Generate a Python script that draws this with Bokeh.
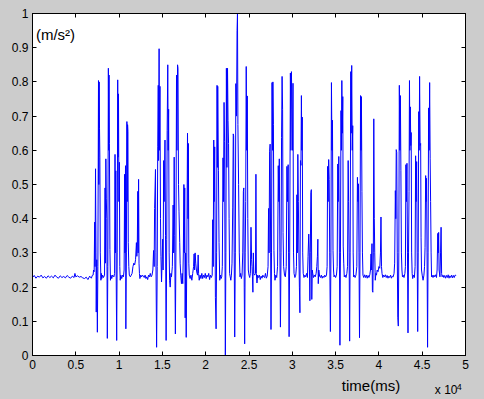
from bokeh.plotting import figure
from bokeh.models import LinearAxis, FixedTicker, Label, Range1d
from bokeh.embed import file_html
from bokeh.resources import INLINE

# Samples: (time in 1e4 ms, acceleration in m/s^2)
quiet_start = [(0.00,0.228),(0.02,0.234),(0.04,0.226),(0.06,0.232),(0.08,0.229),(0.10,0.235),(0.12,0.227),
               (0.14,0.231),(0.16,0.226),(0.18,0.233),(0.20,0.228),(0.22,0.232),(0.24,0.227),(0.26,0.235),
               (0.28,0.229),(0.30,0.226),(0.32,0.233),(0.34,0.228),(0.36,0.231),(0.38,0.227),(0.40,0.234),
               (0.42,0.229),(0.44,0.226),(0.46,0.232),(0.48,0.228),(0.49,0.240),(0.50,0.230),(0.52,0.233),
               (0.54,0.229),(0.56,0.231),(0.58,0.227),(0.60,0.225),(0.62,0.229),(0.64,0.222),(0.66,0.232),
               (0.68,0.226),(0.69,0.234)]

group_1 = [(0.70,0.235),(0.705,0.25),(0.712,0.245),(0.718,0.39),(0.722,0.26),(0.728,0.546),(0.733,0.30),
           (0.736,0.127),(0.742,0.28),(0.749,0.068),(0.755,0.26),(0.762,0.804),(0.766,0.50),(0.770,0.80),
           (0.774,0.663),(0.778,0.58),(0.783,0.30),(0.79,0.22),(0.795,0.24),(0.80,0.225),(0.81,0.235),
           (0.82,0.228),(0.832,0.235),
           (0.838,0.49),(0.842,0.27),(0.847,0.575),(0.852,0.46),(0.858,0.40),(0.864,0.05),(0.870,0.26),
           (0.876,0.84),(0.880,0.60),(0.884,0.82),(0.888,0.62),(0.894,0.31),(0.90,0.22),(0.906,0.235),
           (0.915,0.225),(0.925,0.235),(0.94,0.23),
           (0.948,0.24),(0.953,0.588),(0.957,0.30),(0.962,0.54),(0.966,0.25),(0.972,0.044),(0.978,0.30),
           (0.984,0.806),(0.988,0.58),(0.993,0.765),(0.998,0.45),(1.003,0.565),(1.008,0.26),(1.013,0.22),
           (1.02,0.235),(1.03,0.225),(1.04,0.235),(1.05,0.23),
           (1.058,0.25),(1.064,0.53),(1.068,0.30),(1.074,0.555),(1.078,0.078),(1.084,0.30),(1.09,0.684),
           (1.094,0.45),(1.098,0.675),(1.102,0.655),(1.106,0.33),(1.112,0.26),(1.118,0.235),(1.13,0.23),
           (1.14,0.235),
           (1.15,0.24),(1.16,0.26),(1.17,0.27),(1.18,0.265),(1.19,0.28),(1.20,0.33),(1.205,0.29),(1.21,0.32),
           (1.216,0.48),(1.22,0.30),(1.225,0.515),(1.23,0.27),(1.235,0.24),(1.24,0.225),(1.25,0.235),
           (1.26,0.23),(1.27,0.235)]

group_2 = [(1.28,0.232),(1.29,0.228),(1.30,0.235),(1.31,0.225),(1.32,0.23),(1.33,0.222),(1.34,0.235),
           (1.35,0.23),(1.36,0.24),(1.37,0.23),(1.38,0.235),(1.39,0.25),
           (1.398,0.307),(1.405,0.26),(1.41,0.43),(1.42,0.544),(1.425,0.30),(1.433,0.024),(1.44,0.26),
           (1.446,0.61),(1.452,0.79),(1.456,0.57),(1.462,0.897),(1.466,0.60),(1.472,0.787),(1.478,0.40),
           (1.483,0.29),(1.49,0.215),(1.497,0.28),(1.503,0.34),(1.508,0.25),(1.515,0.57),(1.52,0.45),
           (1.53,0.63),(1.536,0.35),(1.543,0.044),(1.55,0.34),(1.555,0.658),(1.562,0.85),(1.567,0.60),
           (1.572,0.72),(1.578,0.30),(1.583,0.22),(1.59,0.20),(1.598,0.24),(1.605,0.23),(1.615,0.26),
           (1.624,0.44),(1.63,0.30),(1.636,0.58),(1.642,0.35),(1.65,0.063),(1.656,0.30),(1.663,0.82),
           (1.668,0.60),(1.675,0.85),(1.68,0.84),(1.686,0.50),(1.692,0.42),(1.70,0.33),(1.705,0.27),
           (1.712,0.235),(1.72,0.21),(1.728,0.24),(1.735,0.21),(1.742,0.30),(1.748,0.50),(1.752,0.30),
           (1.758,0.49),(1.763,0.11),(1.768,0.30),(1.775,0.053),(1.782,0.30),(1.79,0.65),(1.796,0.40),
           (1.80,0.62),(1.805,0.27),(1.81,0.235),(1.82,0.225),(1.83,0.235),(1.84,0.22),(1.85,0.24),
           (1.86,0.26),(1.866,0.297),(1.872,0.25),(1.878,0.30),(1.885,0.27),(1.893,0.25),(1.90,0.24),
           (1.906,0.235),(1.913,0.294),(1.918,0.24),(1.925,0.22),(1.935,0.235),(1.945,0.225),(1.955,0.24),
           (1.965,0.225),(1.975,0.235),(1.985,0.228),(1.995,0.24),(2.005,0.225),(2.015,0.235),(2.025,0.23),
           (2.035,0.24),(2.045,0.222),(2.055,0.235),(2.065,0.228),(2.075,0.235)]

group_3 = [(2.081,0.397),(2.087,0.26),(2.093,0.63),(2.098,0.45),(2.104,0.61),(2.112,0.17),(2.12,0.078),
           (2.126,0.30),(2.131,0.79),(2.135,0.55),(2.139,0.787),(2.147,0.54),(2.154,0.33),(2.162,0.22),
           (2.17,0.235),(2.178,0.225),(2.185,0.23),(2.192,0.26),(2.20,0.578),(2.205,0.45),(2.212,0.74),
           (2.218,0.625),(2.227,0.0),(2.233,0.30),(2.239,0.84),(2.245,0.55),(2.252,0.84),(2.258,0.687),
           (2.264,0.62),(2.27,0.40),(2.276,0.24),(2.283,0.23),(2.29,0.22),(2.297,0.235),(2.304,0.27),
           (2.312,0.434),(2.318,0.648),(2.323,0.642),(2.329,0.30),(2.335,0.054),(2.342,0.30),(2.348,0.795),
           (2.356,0.70),(2.362,0.95),(2.367,1.0),(2.372,0.675),(2.38,0.50),(2.388,0.30),(2.396,0.23),
           (2.404,0.24),(2.412,0.225),(2.42,0.235),(2.428,0.30),(2.435,0.48),(2.44,0.49),(2.445,0.20),
           (2.45,0.034),(2.456,0.30),(2.462,0.45),(2.468,0.845),(2.474,0.60),(2.48,0.759),(2.486,0.40),
           (2.492,0.25),(2.50,0.235),(2.508,0.228),(2.516,0.24),(2.523,0.375),(2.53,0.28),(2.535,0.26),
           (2.54,0.23),(2.545,0.185),(2.55,0.30),(2.556,0.24),(2.565,0.235),(2.575,0.24),(2.58,0.53),
           (2.585,0.24),(2.592,0.212),(2.60,0.235),(2.61,0.228),(2.62,0.235),(2.63,0.222),(2.64,0.232),
           (2.65,0.226),(2.66,0.235),(2.67,0.23),(2.68,0.228),(2.69,0.24),(2.70,0.226),(2.71,0.232)]

group_4 = [(2.72,0.26),(2.726,0.43),(2.732,0.30),(2.738,0.596),(2.744,0.618),(2.75,0.30),(2.754,0.076),
           (2.76,0.30),(2.766,0.798),(2.772,0.60),(2.776,0.80),(2.782,0.675),(2.788,0.307),(2.794,0.24),
           (2.80,0.22),(2.81,0.235),(2.82,0.228),(2.83,0.26),(2.838,0.555),(2.844,0.45),(2.85,0.575),
           (2.857,0.30),(2.863,0.083),(2.87,0.30),(2.876,0.638),(2.882,0.816),(2.888,0.72),(2.893,0.36),
           (2.90,0.26),(2.91,0.235),(2.92,0.23),(2.93,0.26),(2.938,0.553),(2.945,0.45),(2.952,0.558),
           (2.957,0.30),(2.963,0.055),(2.97,0.30),(2.978,0.826),(2.984,0.60),(2.99,0.83),(2.996,0.72),
           (3.003,0.60),(3.008,0.796),(3.014,0.30),(3.02,0.24),(3.03,0.228),(3.04,0.235),(3.048,0.26),
           (3.053,0.47),(3.058,0.30),(3.064,0.588),(3.07,0.45),(3.076,0.30),(3.082,0.20),(3.088,0.125),
           (3.094,0.57),(3.10,0.556),(3.105,0.76),(3.11,0.60),(3.115,0.697),(3.12,0.30),(3.126,0.24),
           (3.135,0.228),(3.145,0.235),(3.155,0.23),(3.165,0.24),(3.175,0.228)]

group_5 = [(3.182,0.29),(3.19,0.355),(3.196,0.30),(3.203,0.16),(3.208,0.30),(3.214,0.477),(3.22,0.485),
           (3.225,0.164),(3.23,0.25),(3.236,0.24),(3.245,0.228),(3.255,0.235),(3.265,0.23),(3.275,0.24),
           (3.283,0.26),(3.29,0.29),(3.295,0.34),(3.30,0.21),(3.306,0.25),(3.315,0.232),(3.325,0.228),
           (3.335,0.235),(3.345,0.226),(3.355,0.232),(3.365,0.228),(3.375,0.235),(3.385,0.23),(3.395,0.235),
           (3.402,0.26),(3.408,0.553),(3.414,0.45),(3.42,0.573),(3.426,0.515),(3.432,0.30),(3.44,0.07),
           (3.446,0.30),(3.452,0.798),(3.458,0.60),(3.464,0.688),(3.47,0.307),(3.476,0.25),(3.482,0.23),
           (3.49,0.235),(3.50,0.228),(3.51,0.235),(3.518,0.26),(3.525,0.56),(3.53,0.45),(3.537,0.582),
           (3.544,0.30),(3.55,0.03),(3.556,0.30),(3.562,0.716),(3.567,0.60),(3.572,0.804),(3.578,0.65),
           (3.583,0.757),(3.588,0.32),(3.594,0.27),(3.60,0.23),(3.61,0.235),(3.62,0.228),(3.63,0.24),
           (3.638,0.26),(3.645,0.57),(3.65,0.45),(3.656,0.30),(3.662,0.042),(3.668,0.30),(3.675,0.83),
           (3.68,0.65),(3.686,0.848),(3.692,0.60),(3.698,0.672),(3.703,0.30),(3.708,0.23),(3.715,0.235),
           (3.725,0.228),(3.735,0.235),(3.745,0.26),(3.752,0.521),(3.758,0.45),(3.764,0.502),(3.77,0.30),
           (3.776,0.052),(3.782,0.30),(3.788,0.76),(3.793,0.60),(3.798,0.757),(3.804,0.48),(3.81,0.30),
           (3.816,0.235),(3.825,0.228),(3.835,0.236),(3.845,0.228),(3.855,0.235),(3.865,0.226),
           (3.875,0.234),(3.885,0.228),(3.895,0.236),(3.903,0.25)]

group_6 = [(3.909,0.297),(3.914,0.25),(3.92,0.327),(3.925,0.19),(3.93,0.185),(3.936,0.30),(3.941,0.692),
           (3.947,0.40),(3.952,0.30),(3.958,0.22),(3.965,0.24),(3.972,0.235),(3.98,0.25),(3.99,0.245),
           (4.00,0.26),(4.01,0.255),(4.018,0.30),(4.024,0.405),(4.03,0.26),(4.036,0.24),(4.045,0.228),
           (4.055,0.235),(4.065,0.23),(4.075,0.236),(4.085,0.228),(4.095,0.234),(4.105,0.226),(4.115,0.232),
           (4.125,0.228),(4.135,0.235),(4.145,0.226),(4.155,0.232),(4.165,0.23),(4.175,0.24),(4.182,0.27),
           (4.19,0.482),(4.195,0.40),(4.20,0.602),(4.206,0.594),(4.212,0.30),(4.218,0.112),(4.224,0.086),
           (4.23,0.30),(4.236,0.79),(4.242,0.60),(4.248,0.76),(4.254,0.54),(4.26,0.30),(4.266,0.25),
           (4.272,0.23),(4.28,0.235),(4.29,0.228),(4.30,0.24),(4.306,0.26),(4.312,0.558),(4.318,0.45),
           (4.324,0.562),(4.33,0.30),(4.336,0.066),(4.342,0.30),(4.348,0.48),(4.353,0.804),(4.358,0.60),
           (4.363,0.727),(4.368,0.614),(4.373,0.652),(4.378,0.30),(4.384,0.24),(4.39,0.225),(4.40,0.235),
           (4.41,0.228),(4.418,0.26),(4.424,0.584),(4.43,0.45),(4.436,0.567),(4.442,0.30),(4.448,0.07),
           (4.454,0.30),(4.46,0.713),(4.465,0.60),(4.47,0.816),(4.476,0.614),(4.482,0.62),(4.487,0.346),
           (4.492,0.25),(4.50,0.235),(4.51,0.22),(4.52,0.235),(4.527,0.26),(4.533,0.315),(4.54,0.526),
           (4.545,0.45),(4.55,0.518),(4.556,0.30),(4.562,0.024),(4.568,0.30),(4.574,0.724),(4.58,0.60),
           (4.586,0.798),(4.592,0.575),(4.597,0.45),(4.603,0.30),(4.608,0.23),(4.614,0.235),(4.625,0.228),
           (4.635,0.235),(4.645,0.23),(4.655,0.236),(4.665,0.228),(4.672,0.25),(4.68,0.357),(4.685,0.30),
           (4.69,0.36),(4.695,0.25),(4.705,0.23),(4.712,0.30),(4.718,0.375),(4.724,0.24),(4.73,0.23),
           (4.74,0.235),(4.75,0.228),(4.76,0.234),(4.77,0.226),(4.78,0.234),(4.79,0.228),(4.80,0.236),
           (4.81,0.226),(4.82,0.233),(4.83,0.228),(4.84,0.235),(4.85,0.227),(4.86,0.234),(4.87,0.228),
           (4.88,0.235),(4.892,0.234)]

x_ticks = [0, 0.5, 1, 1.5, 2, 2.5, 3, 3.5, 4, 4.5, 5]
x_tick_labels = ["0", "0.5", "1", "1.5", "2", "2.5", "3", "3.5", "4", "4.5", "5"]
y_ticks = [0, 0.1, 0.2, 0.3, 0.4, 0.5, 0.6, 0.7, 0.8, 0.9, 1]
y_tick_labels = ["0", "0.1", "0.2", "0.3", "0.4", "0.5", "0.6", "0.7", "0.8", "0.9", "1"]

# where the two notes below the x axis sit (in x-axis units)
xlabel_pos = [3.909]
xlabel_text = ["time(ms)"]
scale_pos = [4.777]
scale_text = ["x 10"]
scale_exp_pos = [4.929]
scale_exp_text = ["4"]

samples = quiet_start + group_1 + group_2 + group_3 + group_4 + group_5 + group_6
time_1e4 = [s[0] for s in samples]
accel = [s[1] for s in samples]

GRAY = "#cccccc"
FONT = "Liberation Sans"

p = figure(width=484, height=399, output_backend="svg", toolbar_location=None,
           x_range=Range1d(0, 5), y_range=Range1d(0, 1),
           x_axis_location=None, y_axis_location=None,
           min_border_left=32, min_border_right=19, min_border_top=13, min_border_bottom=44)
p.border_fill_color = GRAY
p.background_fill_color = "white"
p.outline_line_color = "black"
p.outline_line_width = 1
p.xgrid.visible = False
p.ygrid.visible = False


def make_axis(ticks, labels, show_labels):
    ax = LinearAxis(ticker=FixedTicker(ticks=ticks),
                    major_label_overrides=dict(zip(ticks, labels)))
    ax.major_tick_in = 4
    ax.major_tick_out = 0
    ax.minor_tick_line_color = None
    ax.axis_line_color = "black"
    ax.major_tick_line_color = "black"
    ax.major_label_text_font = FONT
    if show_labels:
        ax.major_label_text_color = "black"
        ax.major_label_text_font_size = "12px"
        ax.major_label_standoff = 5
    else:
        ax.major_label_text_color = None
        ax.major_label_text_font_size = "1px"
        ax.major_label_standoff = 0
    return ax


def text_axis(ticks, labels, size, standoff):
    ax = LinearAxis(ticker=FixedTicker(ticks=ticks),
                    major_label_overrides=dict(zip(ticks, labels)))
    ax.axis_line_color = None
    ax.major_tick_line_color = None
    ax.minor_tick_line_color = None
    ax.major_tick_in = 0
    ax.major_tick_out = 0
    ax.major_label_text_font = FONT
    ax.major_label_text_color = "black"
    ax.major_label_text_font_size = size
    ax.major_label_standoff = standoff
    return ax


bottom = make_axis(x_ticks, x_tick_labels, True)
bottom.major_label_standoff = 4
left = make_axis(y_ticks, y_tick_labels, True)
left.major_label_standoff = 4
top = make_axis(x_ticks, x_tick_labels, False)
right = make_axis(y_ticks, y_tick_labels, False)
p.add_layout(bottom, "below")
p.add_layout(left, "left")
p.add_layout(top, "above")
p.add_layout(right, "right")

p.add_layout(text_axis(xlabel_pos, xlabel_text, "15px", 5), "below")
p.add_layout(text_axis(scale_pos, scale_text, "12px", -14), "below")
p.add_layout(text_axis(scale_exp_pos, scale_exp_text, "9px", -16), "below")

p.line(time_1e4, accel, line_color="#0000ff", line_width=1)

p.add_layout(Label(x=0.04, y=0.94, text="(m/s²)", text_font=FONT, text_font_size="15px",
                   text_color="black", text_baseline="middle", text_align="left"))

html = file_html(p, INLINE)
html = html.replace("</head>", "<style>html,body{background:#cccccc;}</style></head>", 1)
open("out.html", "w").write(html)
